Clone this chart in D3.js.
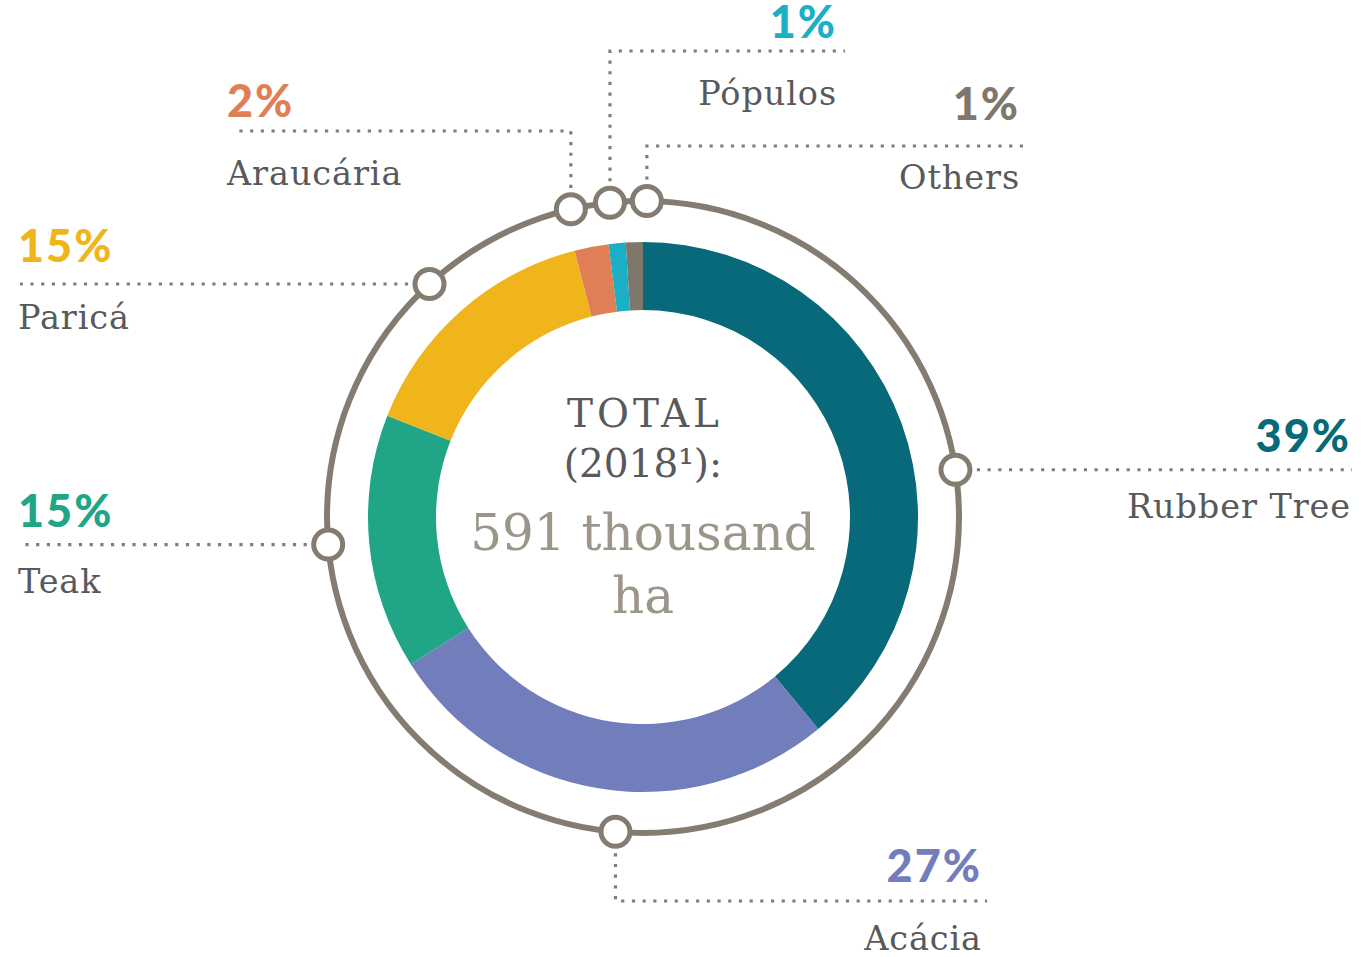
<!DOCTYPE html>
<html>
<head>
<meta charset="utf-8">
<script src="https://cdn.jsdelivr.net/npm/d3@7"></script>
<style>
  body { margin: 0; background: #fff; }
  svg { display: block; }
  .name { font-family: "DejaVu Serif", serif; fill: #58595b; font-size: 33.5px; letter-spacing: 0.9px; }
  .pct { font-family: Lato, sans-serif; font-weight: 900; font-size: 45px; letter-spacing: 2px; }
</style>
</head>
<body>
<svg></svg>
<script>
var species = ["Rubber Tree", "Acácia", "Teak", "Paricá", "Araucária", "Pópulos", "Others"];
var shares = [39, 27, 15, 15, 2, 1, 1];
var pctLabels = ["39%", "27%", "15%", "15%", "2%", "1%", "1%"];
var colors = ["#07697a", "#727dbc", "#20a687", "#f0b51b", "#e07f56", "#1aafc5", "#7e776b"];

var svgWidth = 1361,
  svgHeight = 957,
  cx = 643,
  cy = 517,
  outerR = 275,
  innerR = 207,
  ringR = 316;

var ringColor = "#847c70";

// where each marker sits on the ring (degrees clockwise from top) and how its leader runs
var markerAngles = [81.4, 185, 265, 317.5, 346.8, 354, 0.7];
var leaders = [
  { turnY: null, endX: 1352, anchor: "end", tx: 1351, pctY: 452, nameY: 518 },
  { turnY: 901, endX: 987, anchor: "end", tx: 982, pctY: 882, nameY: 950 },
  { turnY: null, endX: 20, anchor: "start", tx: 18, pctY: 527, nameY: 593 },
  { turnY: null, endX: 20, anchor: "start", tx: 18, pctY: 262, nameY: 329 },
  { turnY: 131, endX: 232, anchor: "start", tx: 227, pctY: 117, nameY: 185 },
  { turnY: 51, endX: 845, anchor: "end", tx: 837, pctY: 38, nameY: 105 },
  { turnY: 146, endX: 1028, anchor: "end", tx: 1020, pctY: 120, nameY: 189 }
];

var svg = d3.select("svg").attr("width", svgWidth).attr("height", svgHeight);

var data = species.map(function (s, i) {
  return { name: s, value: shares[i], pct: pctLabels[i], color: colors[i], angle: markerAngles[i], leader: leaders[i] };
});

var pie = d3.pie().sort(null).value(function (d) { return d.value; });
var arc = d3.arc().innerRadius(innerR).outerRadius(outerR);

var g = svg.append("g").attr("transform", "translate(" + cx + "," + cy + ")");

g.selectAll("path.slice")
  .data(pie(data))
  .enter()
  .append("path")
  .attr("class", "slice")
  .attr("d", arc)
  .attr("fill", function (d) { return d.data.color; });

// outer ring
g.append("circle")
  .attr("r", ringR)
  .attr("fill", "none")
  .attr("stroke", ringColor)
  .attr("stroke-width", 6);

function markerPos(d) {
  var a = d.angle * Math.PI / 180;
  return [cx + ringR * Math.sin(a), cy - ringR * Math.cos(a)];
}

// dotted leader lines
svg.selectAll("path.leader")
  .data(data)
  .enter()
  .append("path")
  .attr("class", "leader")
  .attr("d", function (d) {
    var p = markerPos(d);
    var pts = [p];
    if (d.leader.turnY !== null) {
      pts.push([p[0], d.leader.turnY]);
      pts.push([d.leader.endX, d.leader.turnY]);
    } else {
      pts.push([d.leader.endX, p[1]]);
    }
    return d3.line()(pts);
  })
  .attr("fill", "none")
  .attr("stroke", ringColor)
  .attr("stroke-width", 3.2)
  .attr("stroke-dasharray", "3.2,7.5");

// markers
svg.selectAll("circle.marker")
  .data(data)
  .enter()
  .append("circle")
  .attr("class", "marker")
  .attr("cx", function (d) { return markerPos(d)[0]; })
  .attr("cy", function (d) { return markerPos(d)[1]; })
  .attr("r", 14.5)
  .attr("fill", "#fff")
  .attr("stroke", ringColor)
  .attr("stroke-width", 5);

// labels
svg.selectAll("text.pct")
  .data(data)
  .enter()
  .append("text")
  .attr("class", "pct")
  .attr("x", function (d) { return d.leader.tx; })
  .attr("y", function (d) { return d.leader.pctY; })
  .attr("text-anchor", function (d) { return d.leader.anchor; })
  .attr("fill", function (d) { return d.color; })
  .text(function (d) { return d.pct; });

svg.selectAll("text.name")
  .data(data)
  .enter()
  .append("text")
  .attr("class", "name")
  .attr("x", function (d) { return d.leader.tx; })
  .attr("y", function (d) { return d.leader.nameY; })
  .attr("text-anchor", function (d) { return d.leader.anchor; })
  .text(function (d) { return d.name; });

// centre total
var center = svg.append("g").attr("font-family", "DejaVu Serif, serif").attr("text-anchor", "middle");
center.append("text").attr("x", cx + 2).attr("y", 427).attr("font-size", 39).attr("letter-spacing", 4).attr("fill", "#58595b").text("TOTAL");
center.append("text").attr("x", cx).attr("y", 477).attr("font-size", 39).attr("fill", "#58595b").text("(2018¹):");
center.append("text").attr("x", cx).attr("y", 550).attr("font-size", 50).attr("fill", "#9c958a").text("591 thousand");
center.append("text").attr("x", cx).attr("y", 613).attr("font-size", 50).attr("fill", "#9c958a").text("ha");
</script>
</body>
</html>
